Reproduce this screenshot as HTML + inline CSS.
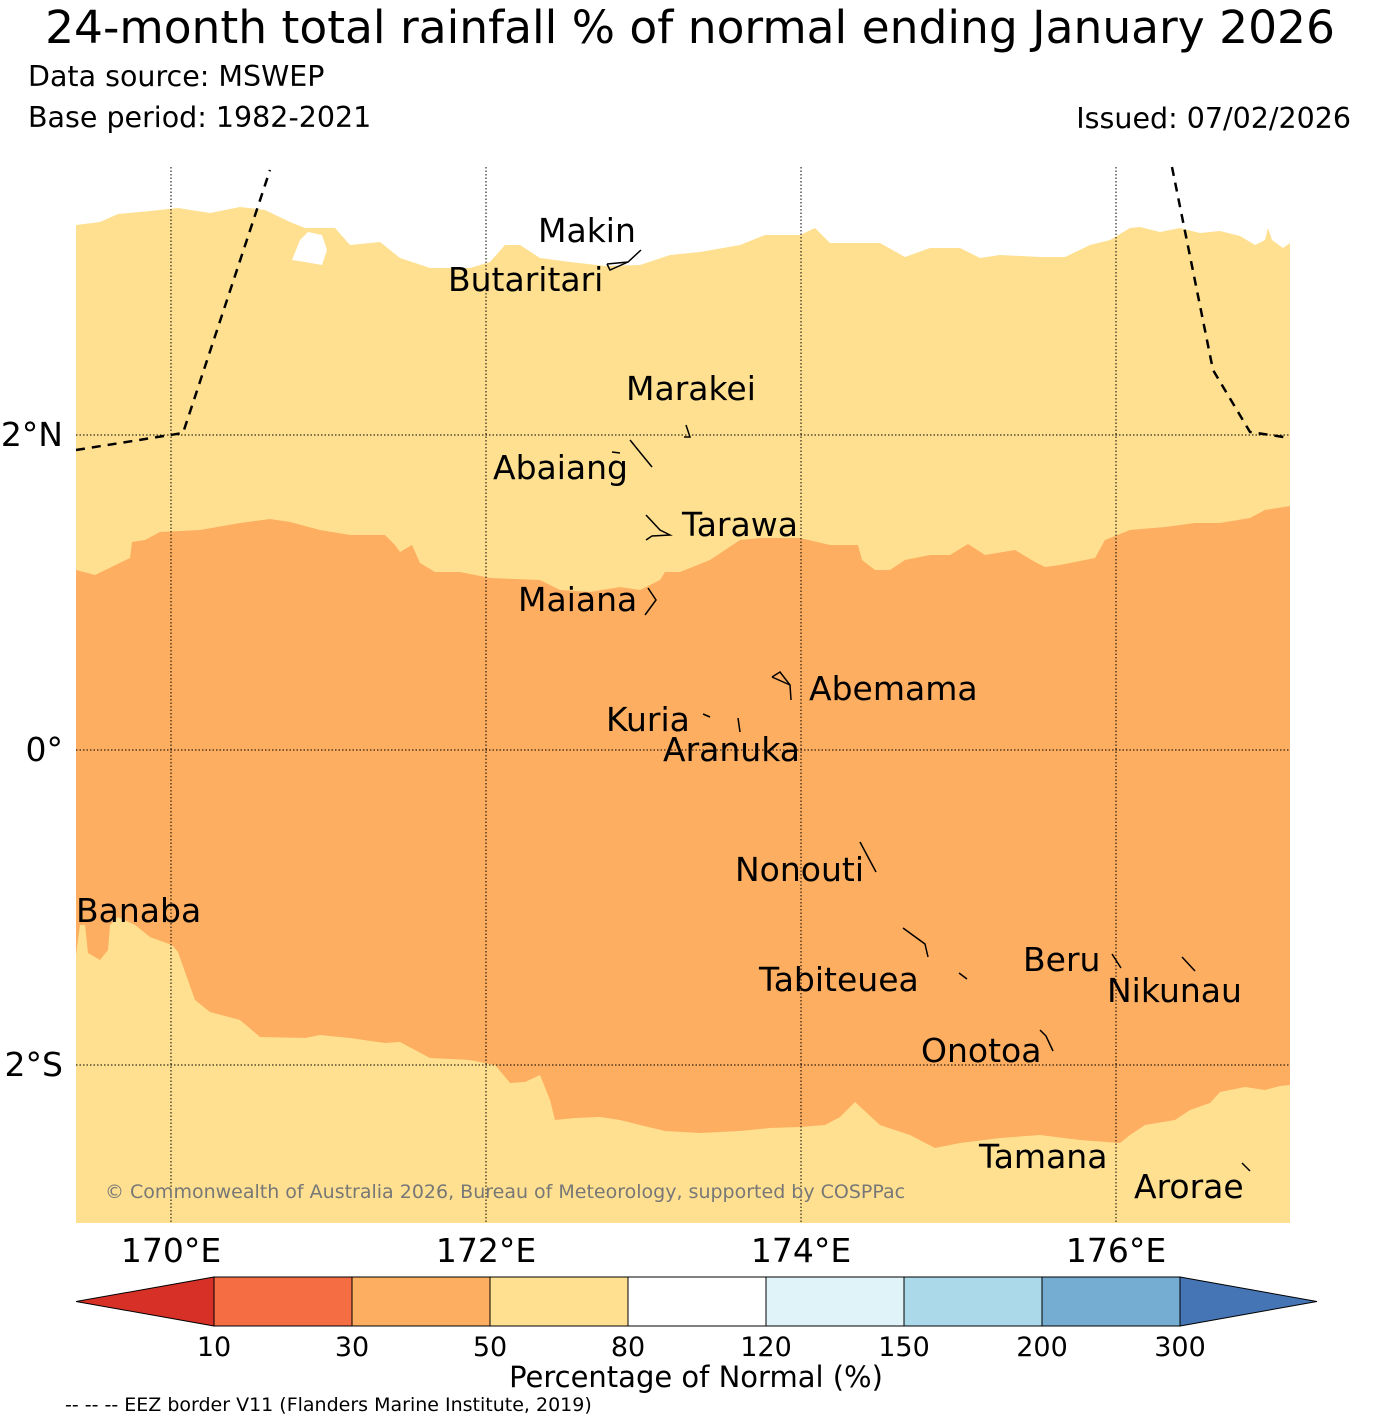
<!DOCTYPE html>
<html><head><meta charset="utf-8"><style>
body{margin:0;background:#fff;}
svg{display:block;font-family:"DejaVu Sans","Liberation Sans",sans-serif;}
</style></head><body>
<svg id="chart" width="1380" height="1426" viewBox="0 0 1380 1426" xmlns="http://www.w3.org/2000/svg">
<text x="690" y="43" font-size="45.5" text-anchor="middle">24-month total rainfall % of normal ending January 2026</text>
<text x="28" y="86" font-size="28.5">Data source: MSWEP</text>
<text x="28" y="127" font-size="28.5">Base period: 1982-2021</text>
<text x="1351" y="128" font-size="28.5" text-anchor="end">Issued: 07/02/2026</text>
<g id="map">
<rect x="76" y="167" width="1214" height="1056" fill="#ffffff"/>
<path fill="#fee090" d="M76,225 L100,222 L118,214 L150,211 L178,208 L210,213 L240,207 L265,210 L290,222 L305,228 L335,228 L350,245 L380,242 L400,258 L430,268 L470,268 L490,262 L505,245 L520,245 L540,258 L570,262 L605,266 L640,265 L670,255 L700,252 L740,245 L765,235 L800,235 L815,228 L830,243 L880,243 L905,257 L930,248 L960,248 L980,258 L1000,255 L1040,257 L1065,257 L1090,245 L1110,240 L1130,228 L1140,227 L1160,232 L1180,228 L1200,233 L1220,231 L1240,236 L1255,245 L1265,240 L1268,228 L1272,240 L1283,248 L1290,243 L1290,1223 L76,1223 Z"/>
<path fill="#ffffff" d="M292,260 L300,240 L308,232 L322,235 L327,250 L322,265 L305,262 Z"/>
<path fill="#fdae61" d="M76,570 L95,575 L130,558 L132,542 L145,540 L160,532 L200,530 L240,523 L270,519 L290,522 L320,530 L350,535 L385,535 L395,545 L400,552 L412,545 L420,563 L435,572 L460,572 L490,578 L540,580 L560,590 L590,592 L620,587 L640,590 L660,580 L665,572 L680,572 L710,560 L740,540 L760,538 L800,538 L830,545 L858,545 L862,560 L875,570 L890,570 L905,560 L930,555 L950,555 L968,544 L985,555 L1015,550 L1035,562 L1045,567 L1060,565 L1095,558 L1105,540 L1130,530 L1165,527 L1195,523 L1220,523 L1250,518 L1265,510 L1290,506 L1290,1085 L1280,1086 L1265,1090 L1245,1087 L1220,1092 L1210,1103 L1190,1110 L1175,1120 L1145,1125 L1130,1135 L1120,1143 L1080,1140 L1040,1135 L1000,1138 L960,1143 L935,1148 L910,1135 L880,1125 L855,1102 L840,1117 L825,1125 L800,1127 L770,1128 L740,1131 L700,1133 L665,1131 L640,1125 L620,1120 L600,1117 L575,1118 L555,1120 L550,1100 L540,1075 L525,1082 L510,1083 L495,1065 L470,1060 L430,1058 L415,1050 L400,1042 L385,1043 L350,1038 L320,1035 L305,1038 L260,1037 L240,1020 L210,1012 L195,1000 L185,972 L178,952 L172,945 L150,937 L135,925 L118,917 L110,925 L108,950 L100,960 L88,953 L85,925 L80,925 L76,955 Z"/>
<g id="grid" stroke="#000" stroke-width="1" stroke-dasharray="1.5,2"></g>
<g fill="none" stroke="#000" stroke-width="2.5" stroke-dasharray="9,7">
<polyline points="76,450 183,433 270,170"/>
<polyline points="1172,167 1213,370 1250,432 1290,438"/>
</g>
<g stroke="#000" stroke-width="1.5" fill="none">
<polyline points="607,264 628,262 641,250"/><polyline points="607,264 610,270 628,262"/>
<polyline points="686,425 690,437 684,437"/>
<polyline points="630,440 652,467"/><polyline points="612,452 620,453"/>
<polyline points="646,515 660,530 670,535 652,536 646,540"/>
<polyline points="648,588 656,600 645,615"/>
<polyline points="772,677 780,672 790,685 791,700"/><polyline points="772,677 790,685"/>
<polyline points="703,714 710,717"/><polyline points="738,718 740,732"/>
<polyline points="860,842 876,872"/>
<polyline points="903,928 925,944 928,957"/><polyline points="959,973 967,979"/>
<polyline points="1112,954 1121,968"/><polyline points="1182,957 1195,971"/>
<polyline points="1040,1030 1046,1036 1053,1051"/><polyline points="1242,1163 1250,1171"/>
</g>
<g font-size="33">
<text x="538" y="242">Makin</text><text x="448" y="291">Butaritari</text>
<text x="626" y="400">Marakei</text><text x="493" y="479">Abaiang</text>
<text x="682" y="536">Tarawa</text><text x="518" y="611">Maiana</text>
<text x="809" y="700">Abemama</text><text x="606" y="731">Kuria</text>
<text x="663" y="761">Aranuka</text><text x="735" y="881">Nonouti</text>
<text x="76" y="922">Banaba</text><text x="759" y="991">Tabiteuea</text>
<text x="1023" y="971">Beru</text><text x="1107" y="1002">Nikunau</text>
<text x="921" y="1062">Onotoa</text><text x="979" y="1168">Tamana</text>
<text x="1134" y="1198">Arorae</text>
</g>
<text x="105" y="1198" font-size="19" fill="#777">© Commonwealth of Australia 2026, Bureau of Meteorology, supported by COSPPac</text>
</g>
<g id="axis-labels" font-size="33"></g>
<g id="colorbar"></g>
<text x="696" y="1387" font-size="29" text-anchor="middle">Percentage of Normal (%)</text>
<text x="65" y="1411" font-size="19">-- -- -- EEZ border V11 (Flanders Marine Institute, 2019)</text>
</svg>
<script>
const lonTicks=[170,172,174,176];
const latTicks=[2,0,-2];
const latLabels=["2°N","0°","2°S"];
const cbLevels=["10","30","50","80","120","150","200","300"];
const cbColors=["#f46d43","#fdae61","#fee090","#ffffff","#e0f3f8","#abd9e9","#74add1"];
const cbUnder="#d73027", cbOver="#4575b4";
const NS="http://www.w3.org/2000/svg";
function xLon(l){return 171+(l-170)*157.5;}
function yLat(l){return 750-l*157.5;}
function mk(t,a,p){const e=document.createElementNS(NS,t);for(const k in a)e.setAttribute(k,a[k]);p.appendChild(e);return e;}
const grid=document.getElementById('grid'),ax=document.getElementById('axis-labels');
lonTicks.forEach(l=>{
 const ln=mk('line',{x1:xLon(l),x2:xLon(l),y1:167,y2:1223},grid);
 
 
 const t=mk('text',{x:xLon(l),y:1262,'text-anchor':'middle'},ax);t.textContent=l+'°E';
 
 
});
latTicks.forEach((l,i)=>{
 const ln=mk('line',{x1:76,x2:1290,y1:yLat(l),y2:yLat(l)},grid);
 
 
 const t=mk('text',{x:63,y:yLat(l)+11,'text-anchor':'end'},ax);t.textContent=latLabels[i];
 
 
});
const cb=document.getElementById('colorbar');
const cbX0=214,cbX1=1180,cbTop=1277,cbBot=1326,cbN=cbColors.length,cbW=(cbX1-cbX0)/cbN;
function xCb(i){return cbX0+i*cbW;}
const u=mk('polygon',{points:`76,${(cbTop+cbBot)/2} ${cbX0},${cbTop} ${cbX0},${cbBot}`,fill:cbUnder,stroke:'#000','stroke-width':1},cb);


cbColors.forEach((c,i)=>{
 const r=mk('rect',{x:xCb(i),y:cbTop,width:cbW,height:cbBot-cbTop,fill:c,stroke:'#000','stroke-width':1},cb);
 
 
});
const o=mk('polygon',{points:`${cbX1},${cbTop} 1317,${(cbTop+cbBot)/2} ${cbX1},${cbBot}`,fill:cbOver,stroke:'#000','stroke-width':1},cb);


cbLevels.forEach((v,i)=>{
 const t=mk('text',{x:xCb(i),y:1356,'text-anchor':'middle','font-size':27},cb);t.textContent=v;
 
 
});
</script>
</body></html>
